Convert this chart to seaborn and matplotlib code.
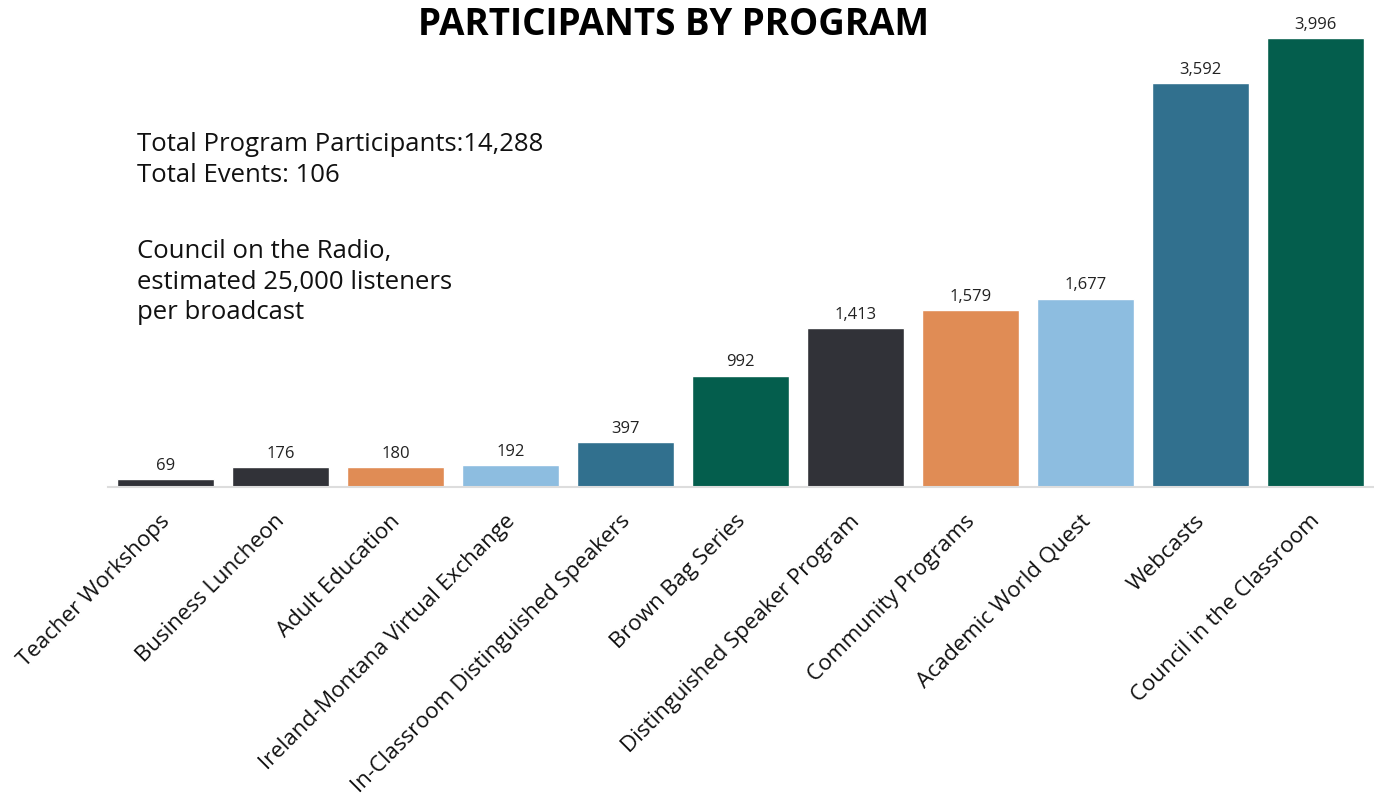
import pandas as pd
import matplotlib.pyplot as plt
import matplotlib.transforms as mtransforms
import seaborn as sns

# Datos
programs = ["Teacher Workshops", "Business Luncheon", "Adult Education",
            "Ireland-Montana Virtual Exchange", "In-Classroom Distinguished Speakers",
            "Brown Bag Series", "Distinguished Speaker Program", "Community Programs",
            "Academic World Quest", "Webcasts", "Council in the Classroom"]
participants = [69, 176, 180, 192, 397, 992, 1413, 1579, 1677, 3592, 3996]
bar_colors = ["#313238", "#313238", "#E08C55", "#8DBDE0", "#31708E", "#045E4D",
              "#313238", "#E08C55", "#8DBDE0", "#31708E", "#045E4D"]

df = pd.DataFrame({"program": programs, "participants": participants})

sns.set_style("white")
plt.rcParams['font.family'] = ['Open Sans', 'DejaVu Sans']

fig = plt.figure(figsize=(13.74, 8.01), dpi=100)
ax = fig.add_axes([108 / 1374, 1 - 487 / 801, 1265 / 1374, (487 - 37.5) / 801])

sns.barplot(data=df, x="program", y="participants", hue="program",
            palette=bar_colors, legend=False, width=0.85, saturation=1, ax=ax)

ax.set_xlim(-0.5, len(programs) - 0.5)
ax.set_ylim(0, 4000)

# Etiquetas de valores
for i, v in enumerate(participants):
    ax.text(i, v + 45, f"{v:,}", ha='center', va='bottom', fontsize=12, color='#222222')

# Ejes
for s in ['top', 'right', 'left']:
    ax.spines[s].set_visible(False)
ax.spines['bottom'].set_color('#dddddd')
ax.spines['bottom'].set_linewidth(1.5)
ax.set_yticks([])
ax.set_xlabel('')
ax.set_ylabel('')
ax.tick_params(axis='x', length=0, pad=17)
ax.set_xticks(range(len(programs)))
ax.set_xticklabels(programs, rotation=45, ha='right', rotation_mode='anchor',
                   fontsize=16, color='#111111')
offset = mtransforms.ScaledTranslation(-6 / 100, 0, fig.dpi_scale_trans)
for lbl in ax.get_xticklabels():
    lbl.set_transform(lbl.get_transform() + offset)

# Título
fig.text(674 / 1374, 1 - 25 / 801, "PARTICIPANTS BY PROGRAM", ha='center', va='center',
         fontsize=26.5, fontweight='bold', color='black')

# Notas
fig.text(137 / 1374, 1 - 160 / 801, "Total Program Participants:14,288\nTotal Events: 106",
         ha='left', va='center', fontsize=18.5, linespacing=1.3, color='#111111')
fig.text(137 / 1374, 1 - 282 / 801,
         "Council on the Radio,\nestimated 25,000 listeners\nper broadcast",
         ha='left', va='center', fontsize=18.5, linespacing=1.3, color='#111111')

plt.savefig("out.png", dpi=100)
